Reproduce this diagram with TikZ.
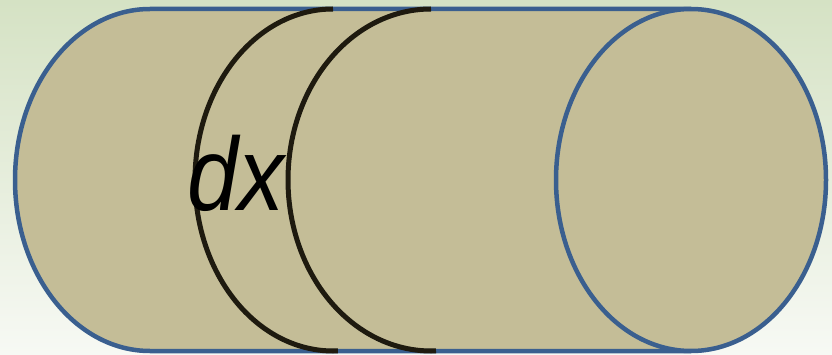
\documentclass[tikz,border=0pt]{standalone}
\usepackage{fontspec}
\setmainfont{Liberation Sans}
\definecolor{bodyfill}{HTML}{C4BD97}
\definecolor{rim}{HTML}{3A5F8F}
\definecolor{slice}{HTML}{1E1A0F}
\definecolor{bgtop}{HTML}{D5E2C4}
\definecolor{bgbot}{HTML}{F7F9F4}
\tikzset{
  rimline/.style={draw=rim, line width=4.5pt},
  sliceline/.style={draw=slice, line width=5pt},
}
\begin{document}
\begin{tikzpicture}[x=1pt,y=1pt]
\shade[top color=bgtop, bottom color=bgbot] (0,0) rectangle (832,354);
\useasboundingbox (0,0) rectangle (832,354);
% body fill
\fill[bodyfill] (150,345) arc[start angle=90, end angle=270, x radius=135pt, y radius=171pt]
  -- (691,3) arc[start angle=-90, end angle=90, x radius=135pt, y radius=171pt] -- cycle;
% body outline
\draw[rimline] (691,345) -- (150,345) arc[start angle=90, end angle=270, x radius=135pt, y radius=171pt] -- (691,3);
% right end
\draw[rimline, fill=bodyfill] (691,174) ellipse[x radius=135pt, y radius=171pt];
% slices
\draw[sliceline] (333,345) arc[start angle=90, end angle=272, x radius=138pt, y radius=171pt];
\draw[sliceline] (431,345) arc[start angle=90, end angle=272, x radius=143pt, y radius=171pt];
\node[anchor=base, inner sep=0pt, xscale=0.88, font=\fontsize{104}{104}\selectfont\itshape] (dx) at (236,144) {dx};
\end{tikzpicture}
\end{document}
